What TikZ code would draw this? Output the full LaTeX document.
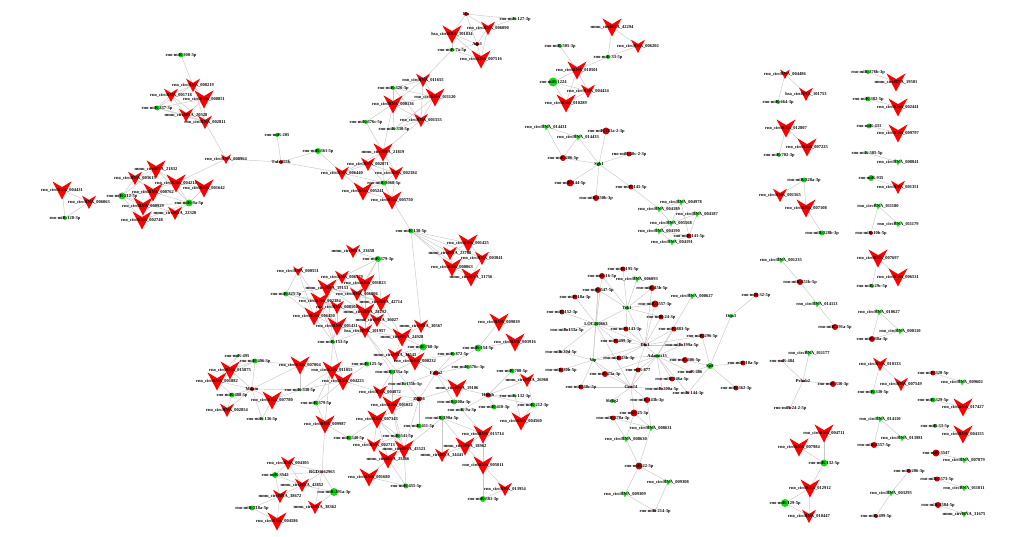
\documentclass[tikz,border=0pt]{standalone}
\usepackage{fontspec}
\setmainfont{Liberation Serif}
\definecolor{vred}{RGB}{255,0,0}
\definecolor{dred}{RGB}{205,0,0}
\definecolor{dgreen}{RGB}{20,215,20}
\definecolor{vgreen}{RGB}{40,230,40}
\definecolor{edgegray}{RGB}{200,200,200}
\tikzset{
  lbl/.style={inner sep=0pt, font=\fontsize{4.5}{4.5}\selectfont\bfseries, text=black},
  edge/.style={draw=edgegray, line width=0.45pt},
}
\newcommand\rc[1]{rno\_circRNA\_#1}
\newcommand\mc[1]{mmu\_circRNA\_#1}
\newcommand\hc[1]{hsa\_circRNA\_#1}
\newcommand\vshp[3]{\fill[#3,shift={(#1)},scale=#2] (-1,-0.9)--(0,-0.3)--(1,-0.9)--(0,1)--cycle;}
% type R: red V, G: green V, g: green dot, r: red dot
\newcommand\shpR[2]{\vshp{#1}{#2}{vred}}
\newcommand\shpG[2]{\vshp{#1}{#2}{vgreen}}
\newcommand\shpg[2]{\fill[dgreen] (#1) circle (#2);}
\newcommand\shpr[2]{\fill[dred] (#1) circle (#2);}
\newcommand\lnk[2]{\draw[edge] (#1)--(#2);}
\def\nodelist{%
% ---- cluster A
\entry{g}{m300}{181}{55}{2.5}{rno-miR-300-3p}
\entry{R}{c008219}{193}{85}{7}{\rc{008219}}
\entry{R}{c001718}{171}{95}{7}{\rc{001718}}
\entry{R}{c000851}{204}{99}{9.5}{\rc{000851}}
\entry{g}{m337}{157}{108}{2.5}{rno-miR-337-3p}
\entry{R}{c20528}{186}{115}{7}{\mc{20528}}
\entry{R}{c002811}{205}{122}{7}{\rc{002811}}
\entry{R}{c008964}{226}{159}{5}{\rc{008964}}
% ---- cluster B
\entry{R}{c004431}{62}{190}{9.5}{\rc{004431}}
\entry{R}{c006063}{89}{202}{7}{\rc{006063}}
\entry{g}{m128}{65}{218}{2}{rno-miR-128-3p}
\entry{R}{c003615}{135}{178}{7}{\rc{003615}}
\entry{R}{c21832}{156}{169}{9.5}{\mc{21832}}
\entry{g}{m212}{122}{196}{3.5}{rno-miR-212-5p}
\entry{R}{c000762}{153}{192}{9.5}{\rc{000762}}
\entry{R}{c004214}{176}{183}{9.5}{\rc{004214}}
\entry{R}{c001642}{204}{188}{9.5}{\rc{001642}}
\entry{g}{m9a}{189}{203}{3.5}{rno-miR-9a-5p}
\entry{R}{c000929}{143}{206}{9.5}{\rc{000929}}
\entry{R}{c22320}{175}{213}{7}{\mc{22320}}
\entry{R}{c002748}{142}{220}{9.5}{\rc{002748}}
% ---- cluster C
\entry{r}{hn}{466}{14}{2}{Hn}
\entry{g}{m127}{515}{19}{1.5}{rno-miR-127-3p}
\entry{R}{c006090}{488}{28}{7}{\rc{006090}}
\entry{R}{c101834}{452}{34}{9.5}{\hc{101834}}
\entry{r}{atp3}{477}{44}{2}{Atp3}
\entry{g}{m7a}{452}{50}{2}{rno-miR-7a-5p}
\entry{R}{c007516}{481}{59}{9.5}{\rc{007516}}
% ---- cluster D
\entry{R}{c011655}{423}{80}{7}{\rc{011655}}
\entry{g}{m326}{393}{88}{2}{rno-miR-326-3p}
\entry{R}{c011120}{435}{97}{9.5}{\rc{011120}}
\entry{R}{c000136}{393}{104}{9.5}{\rc{000136}}
\entry{g}{m376c5}{366}{122}{2}{rno-miR-376c-5p}
\entry{R}{c001555}{421}{120}{7}{\rc{001555}}
\entry{g}{m330}{394}{129}{1.5}{rno-miR-330-5p}
\entry{g}{m205}{277}{135}{2}{rno-miR-205}
\entry{g}{m361}{318}{151}{3}{rno-miR-361-5p}
\entry{r}{tnf}{281}{162}{2}{Tnfrsf11b}
\entry{R}{c21819}{383}{152}{9.5}{\mc{21819}}
\entry{R}{c002071}{368}{164}{7}{\rc{002071}}
\entry{R}{c006440}{342}{173}{7}{\rc{006440}}
\entry{R}{c002184}{396}{173}{7}{\rc{002184}}
\entry{g}{m3068}{384}{183}{2.5}{rno-miR-3068-5p}
\entry{R}{c005241}{363}{191}{9.5}{\rc{005241}}
\entry{R}{c005750}{392}{200}{9.5}{\rc{005750}}
\entry{g}{m138}{411}{231}{2.5}{rno-miR-138-5p}
\entry{R}{c001425}{468}{243}{9.5}{\rc{001425}}
\entry{R}{c23700}{450}{253}{7}{\mc{23700}}
\entry{R}{c003841}{482}{258}{7}{\rc{003841}}
\entry{R}{c000063}{452}{267}{9.5}{\rc{000063}}
\entry{R}{c31756}{471}{277}{9.5}{\mc{31756}}
% ---- top middle
\entry{R}{c42294}{612}{27}{9.5}{\mc{42294}}
\entry{g}{m505a}{560}{46}{2}{rno-miR-505-3p}
\entry{R}{c006202}{638}{46}{7}{\rc{006202}}
\entry{g}{m33a}{608}{57}{2}{rno-miR-33-5p}
\entry{R}{c010501}{577}{70}{9.5}{\rc{010501}}
\entry{g}{m1224}{553}{82}{4.5}{rno-miR-1224}
\entry{R}{c004424}{588}{91}{7}{\rc{004424}}
\entry{R}{c010289}{566}{103}{9.5}{\rc{010289}}
% ---- Sgk1
\entry{G}{c014431}{546}{127}{3.6}{\rc{014431}}
\entry{G}{c014433}{578}{137}{3.6}{\rc{014433}}
\entry{r}{m181a}{606}{131}{3.5}{rno-miR-181a-2-3p}
\entry{r}{m206a}{563}{158}{3}{rno-miR-206-5p}
\entry{r}{m30c2}{629}{154}{2.5}{rno-miR-30c-2-3p}
\entry{g}{sgk}{599}{164}{2}{Sgk1}
\entry{r}{m144a}{570}{183}{3.5}{rno-miR-144-5p}
\entry{r}{m145}{631}{187}{2.5}{rno-miR-145-5p}
\entry{r}{m350b}{596}{198}{3}{rno-miR-350b-3p}
\entry{G}{c004978}{681}{202}{3.6}{\rc{004978}}
\entry{G}{c004189}{659}{209}{3.6}{\rc{004189}}
\entry{G}{c004187}{697}{214}{3.6}{\rc{004187}}
\entry{G}{c005568}{671}{223}{3.6}{\rc{005568}}
\entry{G}{c004190}{659}{231}{3.6}{\rc{004190}}
\entry{r}{m141}{689}{236}{2.5}{rno-miR-141-5p}
\entry{G}{c004191}{672}{242}{3.6}{\rc{004191}}
% ---- center-left cluster
\entry{R}{c23658}{353}{251}{7}{\mc{23658}}
\entry{g}{m379c}{378}{259}{3}{rno-miR-379-3p}
\entry{R}{c000551}{298}{271}{5}{\rc{000551}}
\entry{g}{m325}{286}{294}{2.5}{rno-miR-325-3p}
\entry{R}{c006379}{342}{277}{7}{\rc{006379}}
\entry{R}{c001023}{365}{283}{9.5}{\rc{001023}}
\entry{R}{c19153}{327}{288}{9.5}{\mc{19153}}
\entry{R}{c006006}{357}{294}{7}{\rc{006006}}
\entry{R}{c002384}{320}{301}{9.5}{\rc{002384}}
\entry{R}{c42714}{381}{302}{9.5}{\mc{42714}}
\entry{R}{c008504}{337}{307}{7}{\rc{008504}}
\entry{R}{c28292}{365}{312}{9.5}{\mc{28292}}
\entry{R}{c006450}{314}{316}{9.5}{\rc{006450}}
\entry{R}{c36027}{377}{320}{7}{\mc{36027}}
\entry{R}{c001431}{337}{326}{9.5}{\rc{001431}}
\entry{R}{c101957}{365}{331}{7}{\hc{101957}}
\entry{R}{c30567}{421}{326}{7}{\mc{30567}}
\entry{R}{c24928}{402}{337}{9.5}{\mc{24928}}
\entry{g}{m153}{333}{342}{2}{rno-miR-153-5p}
\entry{g}{m760}{423}{347}{3.5}{rno-miR-760-3p}
\entry{g}{m154}{478}{348}{3.5}{rno-miR-154-5p}
\entry{R}{c009039}{499}{322}{9.5}{\rc{009039}}
\entry{R}{c003916}{515}{342}{9.5}{\rc{003916}}
\entry{R}{c34543}{395}{355}{7}{\mc{34543}}
\entry{g}{m872}{453}{354}{2}{rno-miR-872-5p}
% ---- bottom-left
\entry{g}{m495}{237}{356}{1.5}{rno-miR-495}
\entry{g}{m496}{255}{361}{2.5}{rno-miR-496-3p}
\entry{R}{c015875}{230}{370}{9.5}{\rc{015875}}
\entry{R}{c001882}{217}{381}{9.5}{\rc{001882}}
\entry{r}{mdom}{252}{389}{2}{Mdom}
\entry{g}{m488}{232}{395}{2.5}{rno-miR-488-3p}
\entry{R}{c002854}{227}{410}{7}{\rc{002854}}
\entry{g}{m218a}{252}{508}{2.5}{rno-miR-218a-5p}
% ---- bottom centre
\entry{R}{c007004}{300}{365}{9.5}{\rc{007004}}
\entry{R}{c011055}{332}{370}{9.5}{\rc{011055}}
\entry{g}{m125}{367}{364}{2.5}{rno-miR-125-5p}
\entry{R}{c000232}{415}{361}{9.5}{\rc{000232}}
\entry{R}{c004223}{343}{381}{9.5}{\rc{004223}}
\entry{g}{m135a}{392}{372}{2.5}{rno-miR-135a-5p}
\entry{r}{epha}{436}{373}{2.5}{Epha2}
\entry{g}{m376c3}{468}{367}{2}{rno-miR-376c-3p}
\entry{g}{m338}{300}{390}{1.5}{rno-miR-338-5p}
\entry{g}{m135b}{405}{384}{1.5}{rno-miR-135b-5p}
\entry{R}{c004872}{380}{392}{7}{\rc{004872}}
\entry{r}{zfp}{419}{399}{2.5}{Zfp36}
\entry{R}{c19106}{457}{388}{9.5}{\mc{19106}}
\entry{r}{hmg}{488}{395}{2.5}{Hmgb}
\entry{R}{c007780}{272}{400}{9.5}{\rc{007780}}
\entry{g}{m136}{262}{419}{1.5}{rno-miR-136-3p}
\entry{g}{m379e}{316}{403}{2.5}{rno-miR-379-5p}
\entry{R}{c001022}{392}{405}{9.5}{\rc{001022}}
\entry{g}{m200a3}{454}{402}{2.5}{rno-miR-200a-3p}
\entry{g}{m410}{494}{407}{2.5}{rno-miR-410-3p}
\entry{g}{m9a3}{462}{410}{1.5}{rno-miR-9a-3p}
\entry{R}{c007343}{377}{419}{9.5}{\rc{007343}}
\entry{g}{m190a}{442}{418}{2.5}{rno-miR-190a-5p}
\entry{R}{c009987}{325}{424}{9.5}{\rc{009987}}
\entry{g}{m411}{419}{426}{2.5}{rno-miR-411-5p}
\entry{R}{c015714}{483}{434}{9.5}{\rc{015714}}
\entry{g}{m540}{349}{438}{2.5}{rno-miR-540-5p}
\entry{g}{m541}{398}{436}{2.5}{rno-miR-541-5p}
\entry{R}{c002713}{374}{445}{7}{\rc{002713}}
\entry{R}{c45523}{404}{449}{9.5}{\mc{45523}}
\entry{R}{c18962}{465}{446}{9.5}{\mc{18962}}
\entry{R}{c25466}{388}{459}{9.5}{\mc{25466}}
\entry{R}{c34441}{442}{455}{7}{\mc{34441}}
\entry{R}{c005011}{483}{465}{9.5}{\rc{005011}}
\entry{R}{c004305}{288}{463}{7}{\rc{004305}}
\entry{r}{rgd}{322}{472}{1.2}{RGD1562963}
\entry{g}{m3542}{275}{475}{3}{rno-miR-3542}
\entry{R}{c001680}{369}{477}{9.5}{\rc{001680}}
\entry{R}{c42852}{302}{485}{7}{\mc{42852}}
\entry{g}{m455}{406}{486}{2.5}{rno-miR-455-5p}
\entry{g}{m381}{483}{499}{3}{rno-miR-381-3p}
\entry{g}{m291a}{334}{492}{4}{rno-miR-291a-3p}
\entry{R}{c38672}{280}{496}{7}{\mc{38672}}
\entry{R}{c38362}{315}{507}{7}{\mc{38362}}
\entry{R}{c004586}{277}{521}{9.5}{\rc{004586}}
\entry{g}{m708}{512}{371}{2.5}{rno-miR-708-5p}
\entry{R}{c26960}{527}{380}{7}{\mc{26960}}
\entry{g}{m132c}{515}{396}{1.5}{rno-miR-132-3p}
\entry{g}{m212c}{533}{405}{2.5}{rno-miR-212-3p}
\entry{R}{c004560}{521}{421}{9.5}{\rc{004560}}
\entry{R}{c013954}{505}{489}{7}{\rc{013954}}
% ---- Dlx1 cluster
\entry{r}{m195}{623}{269}{2.5}{rno-miR-195-5p}
\entry{r}{m16}{602}{276}{3}{rno-miR-16-5p}
\entry{G}{c006093}{637}{279}{3.6}{\rc{006093}}
\entry{r}{m547}{598}{290}{3}{rno-miR-547-5p}
\entry{r}{m15b}{652}{288}{3}{rno-miR-15b-5p}
\entry{r}{m18a}{575}{297}{2.5}{rno-miR-18a-3p}
\entry{G}{c000627}{692}{296}{3.6}{\rc{000627}}
\entry{r}{m3557}{655}{304}{3.5}{rno-miR-3557-3p}
\entry{r}{m32}{756}{295}{2.5}{rno-miR-32-5p}
\entry{g}{tek}{627}{308}{2}{Tek1}
\entry{r}{m152}{562}{312}{2.5}{rno-miR-152-3p}
\entry{r}{m24}{661}{317}{2.5}{rno-miR-24-3p}
\entry{g}{ocn}{731}{316}{2}{Ocn3}
\entry{g}{loc}{596}{324}{2}{LOC100663}
\entry{r}{m143}{626}{329}{2.5}{rno-miR-143-3p}
\entry{r}{m883}{674}{329}{2.5}{rno-miR-883-5p}
\entry{r}{m133a}{567}{330}{1.2}{rno-miR-133a-5p}
\entry{r}{m296}{702}{336}{2.5}{rno-miR-296-5p}
\entry{r}{m499}{616}{341}{2.5}{rno-miR-499-3p}
\entry{r}{dlx}{645}{345}{1.5}{Dlx1}
\entry{r}{m199a}{682}{345}{1.2}{rno-miR-199a-5p}
\entry{r}{m30d}{561}{352}{1.2}{rno-miR-30d-5p}
\entry{g}{vip}{593}{360}{1.5}{Vip}
\entry{r}{m23b}{619}{358}{2.5}{rno-miR-23b-3p}
\entry{g}{adam}{657}{356}{2}{Adamts15}
\entry{r}{m306}{685}{360}{3}{rno-miR-306-5p}
\entry{r}{m10a}{743}{363}{2.5}{rno-miR-10a-5p}
\entry{g}{sp8}{710}{366}{3}{Sp8}
\entry{r}{m30b}{561}{370}{2.5}{rno-miR-30b-5p}
\entry{r}{m23a}{605}{374}{3}{rno-miR-23a-3p}
\entry{r}{m877}{638}{370}{2.5}{rno-miR-877}
\entry{r}{m486}{690}{372}{1.2}{rno-miR-486}
\entry{r}{m146a}{672}{379}{2.5}{rno-miR-146a-5p}
\entry{r}{m30c}{581}{387}{2.5}{rno-miR-30c-5p}
\entry{r}{gna}{631}{387}{1.2}{Gna14}
\entry{r}{m200a5}{662}{389}{1.2}{rno-miR-200a-5p}
\entry{r}{m144c}{688}{393}{1.2}{rno-miR-144-3p}
\entry{r}{m362}{736}{388}{2.5}{rno-miR-362-3p}
\entry{g}{slc}{612}{401}{2}{Slc8g2}
\entry{r}{m143b}{647}{400}{3}{rno-miR-143b-3p}
\entry{r}{m25}{634}{413}{3.5}{rno-miR-25-3p}
\entry{r}{m378}{613}{418}{2.5}{rno-miR-378a-3p}
\entry{G}{c008631}{651}{428}{3.6}{\rc{008631}}
\entry{G}{c008630}{626}{439}{3.6}{\rc{008630}}
\entry{r}{m22}{639}{466}{3.5}{rno-miR-22-5p}
\entry{G}{c009308}{668}{482}{3.6}{\rc{009308}}
\entry{G}{c009309}{625}{494}{3.6}{\rc{009309}}
\entry{r}{m214}{655}{511}{1.2}{rno-miR-214-3p}
% ---- right column
\entry{R}{c004486}{785}{74}{5}{\rc{004486}}
\entry{R}{c101753}{806}{94}{7}{\hc{101753}}
\entry{g}{m664}{778}{102}{2}{rno-miR-664-3p}
\entry{g}{m376b}{868}{72}{2}{rno-miR-376b-3p}
\entry{R}{c19501}{896}{82}{9.5}{\mc{19501}}
\entry{g}{m382}{868}{99}{2.5}{rno-miR-382-5p}
\entry{R}{c002441}{898}{107}{9.5}{\rc{002441}}
\entry{g}{m431}{869}{126}{2.5}{rno-miR-431}
\entry{R}{c009797}{898}{133}{9.5}{\rc{009797}}
\entry{g}{m505b}{867}{153}{1.2}{rno-miR-505-5p}
\entry{G}{c008841}{898}{162}{3.6}{\rc{008841}}
\entry{R}{c012807}{786}{128}{9.5}{\rc{012807}}
\entry{R}{c007225}{807}{147}{9.5}{\rc{007225}}
\entry{g}{m702}{779}{155}{2}{rno-miR-702-3p}
\entry{g}{m935}{871}{178}{3}{rno-miR-935}
\entry{g}{m328a}{804}{180}{2.5}{rno-miR-328a-3p}
\entry{R}{c001565}{780}{195}{7}{\rc{001565}}
\entry{R}{c007108}{806}{208}{9.5}{\rc{007108}}
\entry{g}{m328b}{822}{233}{2.5}{rno-miR-328b-3p}
\entry{R}{c001351}{898}{187}{7}{\rc{001351}}
\entry{G}{c011180}{878}{206}{3.6}{\rc{011180}}
\entry{G}{c011179}{898}{224}{3.6}{\rc{011179}}
\entry{r}{m10b}{871}{233}{2}{rno-miR-10b-5p}
\entry{G}{c001235}{781}{260}{3.6}{\rc{001235}}
\entry{r}{m551}{800}{282}{3}{rno-miR-551b-5p}
\entry{G}{c014113}{817}{304}{3.6}{\rc{014113}}
\entry{r}{m291a5}{835}{327}{3}{rno-miR-291a-5p}
\entry{R}{c007697}{878}{258}{9.5}{\rc{007697}}
\entry{R}{c006531}{898}{277}{9.5}{\rc{006531}}
\entry{g}{m29c}{872}{286}{2}{rno-miR-29c-5p}
\entry{G}{c010627}{879}{312}{3.6}{\rc{010627}}
\entry{G}{c000110}{900}{331}{3.6}{\rc{000110}}
\entry{r}{m30a3}{872}{339}{3}{rno-miR-30a-3p}
\entry{G}{c011177}{809}{353}{3.6}{\rc{011177}}
\entry{r}{m484}{782}{361}{1.2}{rno-miR-484}
\entry{r}{prk}{803}{381}{1.2}{Prkab2}
\entry{r}{m330c}{833}{384}{3}{rno-miR-330-3p}
\entry{r}{m242}{790}{408}{1.2}{rno-miR-24-2-5p}
\entry{R}{c010133}{880}{364}{7}{\rc{010133}}
\entry{R}{c007549}{901}{384}{7}{\rc{007549}}
\entry{g}{m330e}{873}{392}{2.5}{rno-miR-330-5p}
\entry{r}{m320}{933}{373}{2.5}{rno-miR-320-5p}
\entry{G}{c009602}{962}{382}{3.6}{\rc{009602}}
\entry{g}{m329}{933}{400}{2.5}{rno-miR-329-5p}
\entry{R}{c017427}{963}{407}{9.5}{\rc{017427}}
\entry{G}{c014110}{880}{419}{3.6}{\rc{014110}}
\entry{G}{c013981}{902}{438}{3.6}{\rc{013981}}
\entry{r}{m3557e}{874}{445}{3}{rno-miR-3557-5p}
\entry{g}{m33b}{935}{426}{2}{rno-miR-33-5p}
\entry{R}{c004155}{963}{434}{9.5}{\rc{004155}}
\entry{r}{m3547}{936}{453}{3.5}{rno-miR-3547}
\entry{G}{c007879}{964}{460}{3.6}{\rc{007879}}
\entry{R}{c004711}{824}{433}{9.5}{\rc{004711}}
\entry{R}{c007984}{799}{447}{9.5}{\rc{007984}}
\entry{g}{m132e}{824}{463}{3.5}{rno-miR-132-5p}
\entry{R}{c012912}{810}{488}{9.5}{\rc{012912}}
\entry{g}{m129}{785}{503}{4}{rno-miR-129-5p}
\entry{R}{c010447}{809}{516}{7}{\rc{010447}}
\entry{r}{m206c}{909}{471}{2}{rno-miR-206-3p}
\entry{G}{c003295}{891}{493}{3.6}{\rc{003295}}
\entry{r}{m499e}{876}{516}{2}{rno-miR-499-5p}
\entry{r}{m3573}{937}{479}{2.5}{rno-miR-3573-5p}
\entry{G}{c011011}{964}{488}{3.6}{\rc{011011}}
\entry{r}{m3584}{938}{505}{3}{rno-miR-3584-5p}
\entry{G}{c31675}{964}{514}{3.6}{\mc{31675}}
}
\begin{document}
\begin{tikzpicture}[x=1pt,y=-1pt]
\fill[white] (0,0) rectangle (1020,537);
\useasboundingbox (0,0) rectangle (1020,537);
% pass 1: positions
\def\entry#1#2#3#4#5#6{\coordinate (#2) at (#3,#4);}
\nodelist
% ================= edges
% A
\lnk{m300}{c008219}\lnk{c008219}{c000851}\lnk{c008219}{c001718}\lnk{c008219}{m337}\lnk{c008219}{c002811}
\lnk{c001718}{m337}\lnk{c001718}{c20528}\lnk{c001718}{c002811}\lnk{c000851}{m337}\lnk{c000851}{c20528}
\lnk{c000851}{c002811}\lnk{m337}{c20528}\lnk{m337}{c002811}\lnk{c20528}{c002811}\lnk{c002811}{c008964}
\lnk{c008964}{tnf}\lnk{c008964}{c004214}
% B
\lnk{c004431}{c006063}\lnk{c004431}{m128}\lnk{c006063}{m128}
\lnk{m212}{c003615}\lnk{m212}{c21832}\lnk{m212}{c000762}\lnk{m212}{c000929}\lnk{m212}{c002748}\lnk{m212}{c004214}\lnk{m212}{c22320}
\lnk{m9a}{c21832}\lnk{m9a}{c004214}\lnk{m9a}{c001642}\lnk{m9a}{c000762}\lnk{m9a}{c22320}\lnk{m9a}{c000929}\lnk{m9a}{c002748}
\lnk{c003615}{c21832}\lnk{c21832}{c004214}\lnk{c000762}{c000929}\lnk{c004214}{c001642}\lnk{c003615}{c000762}
% C
\lnk{hn}{c101834}\lnk{hn}{c006090}\lnk{hn}{atp3}\lnk{m127}{c006090}\lnk{m127}{hn}\lnk{c101834}{atp3}
\lnk{c101834}{c007516}\lnk{c101834}{c006090}\lnk{c006090}{atp3}\lnk{c006090}{c007516}\lnk{atp3}{c007516}
\lnk{m7a}{c101834}\lnk{m7a}{c007516}\lnk{m7a}{atp3}\lnk{m7a}{c011655}
% D
\lnk{c011655}{m326}\lnk{c011655}{c011120}\lnk{c011655}{c000136}\lnk{c011655}{c001555}\lnk{m326}{c000136}
\lnk{m326}{c011120}\lnk{m326}{c001555}\lnk{c000136}{c011120}\lnk{c000136}{c001555}\lnk{c011120}{c001555}
\lnk{c011120}{m330}\lnk{m376c5}{c000136}\lnk{m376c5}{c21819}\lnk{c000136}{c21819}\lnk{m330}{c001555}
\lnk{c001555}{c21819}\lnk{m330}{c000136}
\lnk{c21819}{c002071}\lnk{c21819}{c002184}\lnk{c21819}{c006440}\lnk{c21819}{m3068}
\lnk{m205}{tnf}\lnk{m361}{tnf}\lnk{m361}{c006440}\lnk{tnf}{c006440}\lnk{c002071}{m3068}\lnk{c002184}{m3068}
\lnk{c006440}{m3068}\lnk{c002071}{c002184}\lnk{c006440}{c002071}
\lnk{m3068}{c005241}\lnk{m3068}{c005750}\lnk{c005241}{c005750}\lnk{c002184}{c005750}\lnk{c006440}{c005241}
\lnk{c005750}{m138}
\lnk{m138}{c001425}\lnk{m138}{c23700}\lnk{m138}{c003841}\lnk{m138}{c000063}\lnk{m138}{c31756}
\lnk{c001425}{c23700}\lnk{c001425}{c003841}\lnk{c23700}{c000063}\lnk{c003841}{c31756}\lnk{c000063}{c31756}
\lnk{m138}{c30567}
% top middle
\lnk{c42294}{m33a}\lnk{c42294}{c006202}\lnk{m33a}{c006202}\lnk{m33a}{c010501}\lnk{m505a}{c010501}
\lnk{c010501}{m1224}\lnk{c010501}{c004424}\lnk{c010501}{c010289}\lnk{m1224}{c010289}\lnk{m1224}{c004424}\lnk{c004424}{c010289}
% Sgk1
\lnk{c014431}{c014433}\lnk{c014431}{m206a}\lnk{c014433}{m206a}\lnk{c014433}{sgk}\lnk{m181a}{sgk}\lnk{m30c2}{sgk}
\lnk{sgk}{m206a}\lnk{sgk}{m144a}\lnk{sgk}{m350b}\lnk{sgk}{m145}\lnk{m145}{c004189}
\lnk{c004978}{c004189}\lnk{c004189}{c005568}\lnk{c004978}{c005568}\lnk{c004187}{c005568}\lnk{c004187}{m141}
\lnk{c005568}{c004190}\lnk{c004190}{m141}\lnk{c004191}{m141}\lnk{c004190}{c004191}\lnk{c004978}{m141}
% centre-left cluster
\lnk{c23658}{m379c}\lnk{m379c}{c001023}\lnk{m379c}{c006379}\lnk{m379c}{c42714}\lnk{m379c}{c006006}
\lnk{c000551}{m325}\lnk{c000551}{c001431}\lnk{c000551}{c006450}
\lnk{m325}{c19153}\lnk{m325}{c002384}\lnk{m325}{c006450}\lnk{m325}{c008504}
\lnk{c19153}{c001023}\lnk{c19153}{c006379}\lnk{c19153}{c002384}\lnk{c19153}{c006006}\lnk{c19153}{c28292}\lnk{c19153}{c42714}
\lnk{c002384}{c008504}\lnk{c002384}{c006450}\lnk{c002384}{c28292}
\lnk{c006006}{c42714}\lnk{c006006}{c28292}\lnk{c001023}{c28292}\lnk{c001023}{c42714}\lnk{c006379}{c006006}
\lnk{c008504}{c001431}\lnk{c008504}{c36027}\lnk{c28292}{c36027}\lnk{c28292}{c101957}\lnk{c42714}{c36027}\lnk{c42714}{c101957}
\lnk{c006450}{c001431}\lnk{c006450}{m153}\lnk{c001431}{m153}\lnk{c002384}{m153}\lnk{c19153}{m153}\lnk{c008504}{m153}
\lnk{c101957}{m153}\lnk{c001431}{c101957}\lnk{c36027}{c101957}
\lnk{c101957}{c24928}\lnk{c36027}{c24928}\lnk{c42714}{c24928}\lnk{c24928}{c30567}\lnk{c24928}{m760}\lnk{c30567}{m760}
\lnk{c24928}{c34543}\lnk{m760}{c34543}\lnk{m760}{c000232}\lnk{c101957}{zfp}\lnk{c101957}{m135a}
\lnk{m153}{c009987}\lnk{m153}{c004223}
\lnk{m154}{c009039}\lnk{m154}{c003916}\lnk{m872}{c000232}\lnk{m154}{epha}\lnk{m872}{epha}
% bottom-left
\lnk{m495}{c015875}\lnk{m496}{c015875}\lnk{m496}{c001882}\lnk{m495}{c001882}\lnk{mdom}{c015875}\lnk{mdom}{c001882}
\lnk{mdom}{c002854}\lnk{mdom}{m488}\lnk{mdom}{c007780}\lnk{mdom}{m338}\lnk{mdom}{m136}\lnk{mdom}{m496}
\lnk{m488}{c001882}\lnk{m488}{c002854}\lnk{c007004}{m338}\lnk{c007004}{mdom}\lnk{c011055}{m338}
\lnk{m338}{c007780}\lnk{c007780}{m136}\lnk{c007004}{m496}
% bottom centre
\lnk{m125}{c011055}\lnk{m125}{c004223}\lnk{c011055}{m379e}\lnk{c004223}{m379e}\lnk{c004223}{m338}\lnk{m379e}{c009987}
\lnk{c011055}{c004223}\lnk{c004223}{c004872}\lnk{m135a}{c000232}\lnk{m135a}{c004872}\lnk{m135a}{c001022}
\lnk{c000232}{epha}\lnk{epha}{m376c3}\lnk{epha}{m135b}\lnk{epha}{zfp}\lnk{epha}{c19106}\lnk{epha}{m200a3}
\lnk{c004872}{zfp}\lnk{c001022}{zfp}\lnk{c001022}{c007343}\lnk{c004872}{c001022}\lnk{zfp}{c007343}\lnk{zfp}{m411}
\lnk{zfp}{c19106}\lnk{zfp}{c45523}\lnk{c007343}{m541}\lnk{c007343}{c002713}\lnk{c007343}{m540}\lnk{c007343}{c45523}
\lnk{c007343}{c25466}\lnk{c001022}{m541}\lnk{c001022}{c45523}\lnk{m541}{c45523}\lnk{m541}{c002713}\lnk{m540}{c002713}
\lnk{m540}{c009987}\lnk{c002713}{c25466}\lnk{c45523}{c25466}\lnk{c25466}{c001680}\lnk{c001680}{m455}\lnk{c25466}{m455}\lnk{c45523}{m455}
\lnk{m190a}{c34441}\lnk{m190a}{c18962}\lnk{m190a}{c015714}\lnk{m190a}{c45523}\lnk{c19106}{m200a3}\lnk{c19106}{hmg}
\lnk{hmg}{m410}\lnk{hmg}{m9a3}\lnk{hmg}{c26960}\lnk{hmg}{m132c}\lnk{hmg}{m212c}\lnk{hmg}{m708}
\lnk{c26960}{m708}\lnk{c26960}{m212c}\lnk{m9a3}{c015714}\lnk{c015714}{c005011}\lnk{c18962}{c005011}\lnk{c18962}{c015714}
\lnk{c005011}{m381}\lnk{c34441}{c18962}\lnk{c005011}{c013954}\lnk{m381}{c013954}
\lnk{c004560}{m132c}\lnk{c004560}{m212c}
\lnk{rgd}{c009987}\lnk{rgd}{c004305}\lnk{rgd}{m3542}\lnk{rgd}{c42852}\lnk{rgd}{m291a}\lnk{rgd}{c38362}
\lnk{m3542}{c004305}\lnk{m3542}{c42852}\lnk{m3542}{c38672}\lnk{c38672}{c004586}\lnk{m218a}{c38672}\lnk{m218a}{c004586}
\lnk{c42852}{c38672}\lnk{m291a}{c42852}\lnk{m291a}{c38362}\lnk{c004305}{c42852}
% Dlx1 cluster
\lnk{tek}{m195}\lnk{tek}{m16}\lnk{tek}{c006093}\lnk{tek}{m547}\lnk{tek}{m15b}\lnk{tek}{m3557}\lnk{tek}{loc}
\lnk{tek}{dlx}\lnk{tek}{m143}\lnk{tek}{m24}
\lnk{loc}{m16}\lnk{loc}{m547}\lnk{loc}{m18a}\lnk{loc}{m152}\lnk{loc}{m133a}\lnk{loc}{m30d}\lnk{loc}{vip}
\lnk{loc}{dlx}\lnk{loc}{m499}\lnk{loc}{m143}\lnk{loc}{gna}\lnk{m547}{vip}
\lnk{m15b}{dlx}\lnk{m3557}{dlx}\lnk{m24}{dlx}\lnk{m883}{dlx}\lnk{m143}{dlx}\lnk{m499}{dlx}\lnk{m199a}{dlx}
\lnk{m296}{dlx}\lnk{adam}{dlx}\lnk{vip}{dlx}\lnk{m23b}{dlx}\lnk{dlx}{gna}
\lnk{adam}{m306}\lnk{adam}{m877}\lnk{adam}{m23a}\lnk{adam}{m146a}\lnk{adam}{m486}\lnk{adam}{m200a5}
\lnk{adam}{m144c}\lnk{adam}{gna}\lnk{adam}{m23b}\lnk{adam}{m883}\lnk{adam}{m199a}\lnk{adam}{c000627}
\lnk{gna}{vip}\lnk{gna}{m30c}\lnk{gna}{m23a}\lnk{gna}{m877}\lnk{gna}{m200a5}\lnk{gna}{m143b}\lnk{gna}{m25}\lnk{gna}{slc}
\lnk{vip}{m30b}\lnk{vip}{m23b}\lnk{vip}{m30d}\lnk{vip}{m23a}\lnk{vip}{m30c}
\lnk{m25}{c008631}\lnk{m25}{c008630}\lnk{m378}{c008630}\lnk{m378}{c008631}\lnk{m143b}{c008631}
\lnk{c008630}{m22}\lnk{c008631}{m22}\lnk{m22}{c009308}\lnk{m22}{c009309}\lnk{m214}{c009308}\lnk{m214}{c009309}
\lnk{sp8}{m10a}\lnk{sp8}{m362}\lnk{sp8}{m306}\lnk{sp8}{m486}\lnk{sp8}{ocn}\lnk{sp8}{m296}\lnk{sp8}{m144c}\lnk{ocn}{m32}
% right column
\lnk{c004486}{c101753}\lnk{c004486}{m664}\lnk{c012807}{c007225}\lnk{c012807}{m702}\lnk{m376b}{c19501}
\lnk{m382}{c002441}\lnk{m431}{c009797}\lnk{m505b}{c008841}\lnk{m328a}{c001565}\lnk{m328a}{c007108}
\lnk{c007108}{m328b}\lnk{m935}{c001351}\lnk{c011180}{c011179}\lnk{c011180}{m10b}\lnk{c001235}{m551}
\lnk{m551}{c014113}\lnk{c014113}{m291a5}\lnk{c007697}{c006531}\lnk{c007697}{m29c}\lnk{c010627}{c000110}
\lnk{c010627}{m30a3}\lnk{c000110}{m30a3}\lnk{c011177}{prk}\lnk{m484}{prk}\lnk{prk}{m330c}\lnk{prk}{m242}
\lnk{c010133}{c007549}\lnk{c010133}{m330e}\lnk{m320}{c009602}\lnk{m329}{c017427}\lnk{c014110}{c013981}
\lnk{c014110}{m3557e}\lnk{m33b}{c004155}\lnk{m3547}{c007879}\lnk{c004711}{m132e}\lnk{c007984}{m132e}
\lnk{m132e}{c012912}\lnk{c012912}{m129}\lnk{c012912}{c010447}\lnk{m129}{c010447}\lnk{m206c}{c003295}
\lnk{c003295}{m499e}\lnk{m3573}{c011011}\lnk{m3584}{c31675}
% pass 2: shapes
\def\entry#1#2#3#4#5#6{\csname shp#1\endcsname{#2}{#5}}
\nodelist
% pass 3: labels
\def\entry#1#2#3#4#5#6{\node[lbl] (#2-l) at (#2) {#6};}
\nodelist
\end{tikzpicture}
\end{document}
